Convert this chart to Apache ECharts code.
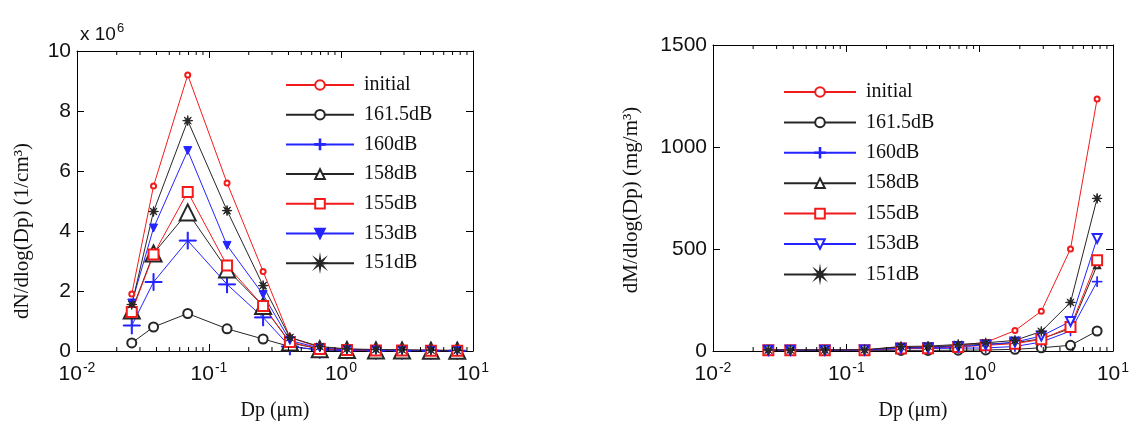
<!DOCTYPE html>
<html>
<head>
<meta charset="utf-8">
<script src="https://cdn.jsdelivr.net/npm/echarts@6/dist/echarts.min.js"></script>
<style>
  html, body { margin: 0; padding: 0; background: #fff; }
  #chart { width: 1137px; height: 426px; }
</style>
</head>
<body>
<div id="chart"></div>
<script>
// particle diameter (um), same bins on both panels
const dp = [0.026, 0.038, 0.069, 0.137, 0.257, 0.41, 0.69, 1.11, 1.84, 2.9, 4.8, 7.6];
const seriesNames = ['initial', '161.5dB', '160dB', '158dB', '155dB', '153dB', '151dB'];

// left panel: dN/dlog(Dp), x 10^6 1/cm3
const nInitial = [1.9, 5.5, 9.2, 5.6, 2.65, 0.45, 0.12, 0.06, 0.04, 0.03, 0.02, 0.02];
const n1615 = [0.27, 0.8, 1.25, 0.74, 0.4, 0.15, 0.03, 0.02, 0.01, 0.01, 0.01, 0.01];
const n160 = [0.85, 2.3, 3.68, 2.22, 1.12, 0.15, 0.04, 0.02, 0.01, 0.01, 0.01, 0.01];
const n158 = [1.35, 3.25, 4.62, 2.72, 1.5, 0.28, 0.06, 0.03, 0.02, 0.02, 0.01, 0.01];
const n155 = [1.3, 3.22, 5.3, 2.85, 1.5, 0.3, 0.07, 0.03, 0.02, 0.02, 0.01, 0.01];
const n153 = [1.6, 4.1, 6.68, 3.52, 1.88, 0.35, 0.1, 0.04, 0.03, 0.02, 0.02, 0.01];
const n151 = [1.55, 4.65, 7.68, 4.68, 2.18, 0.45, 0.15, 0.07, 0.05, 0.04, 0.03, 0.02];

// right panel: dM/dlog(Dp), mg/m3
const mInitial = [5, 5, 5, 6, 20, 20, 28, 42, 100, 195, 500, 1235];
const m1615 = [3, 3, 3, 3, 3, 3, 4, 5, 8, 16, 28, 98];
const m160 = [4, 4, 4, 4, 12, 12, 14, 15, 22, 44, 98, 340];
const m158 = [4, 4, 4, 5, 16, 18, 26, 34, 40, 60, 110, 420];
const m155 = [4, 4, 4, 4, 12, 14, 20, 28, 36, 57, 118, 445];
const m153 = [4, 4, 4, 5, 14, 16, 22, 30, 44, 73, 145, 552];
const m151 = [5, 5, 5, 6, 22, 24, 32, 40, 52, 96, 238, 748];

const leftTicks = [0, 10, 2];
const rightTicks = [0, 1500, 500];

const SANS = "'Liberation Sans', Arial, sans-serif";
const SERIF = "'Liberation Serif', 'Times New Roman', serif";
const RED = '#f21b1b', BLUE = '#2424ff', BLACK = '#262626';

const PLUS = 'path://M-0.6,-10H0.6V-0.6H10V0.6H0.6V10H-0.6V0.6H-10V-0.6H-0.6Z';
const STAR = 'path://M0,-10L1.15,-2.77L7.07,-7.07L2.77,-1.15L10,0L2.77,1.15L7.07,7.07L1.15,2.77L0,10L-1.15,2.77L-7.07,7.07L-2.77,1.15L-10,0L-2.77,-1.15L-7.07,-7.07L-1.15,-2.77Z';

// minor ticks of the log axes (2..9 in each decade)
const minorTicks = [];
for (let e = -2; e < 1; e++) {
  for (let m = 2; m <= 9; m++) minorTicks.push(m * Math.pow(10, e));
}

function pairs(arr) {
  return dp.map((d, i) => [d, arr[i]]);
}

function line(name, arr, color, symbol, size, xi, rotate) {
  return {
    name: name,
    type: 'line',
    xAxisIndex: xi,
    yAxisIndex: xi,
    data: pairs(arr),
    symbol: symbol,
    symbolSize: size,
    symbolRotate: rotate || 0,
    showAllSymbol: true,
    lineStyle: { color: color, width: 1 },
    itemStyle: { color: color, borderColor: color, borderWidth: 1 },
    emphasis: { disabled: true },
    animation: false,
    z: 3
  };
}

// short inward ticks along the bottom (dir -1) or top (dir 1) edge
function minorSeries(xi, yVal, dir) {
  return {
    type: 'scatter',
    xAxisIndex: xi,
    yAxisIndex: xi,
    silent: true,
    animation: false,
    clip: false,
    z: 10,
    data: minorTicks.map(v => [v, yVal]),
    symbol: 'rect',
    symbolSize: [1, 4],
    symbolOffset: [0, dir * 2],
    itemStyle: { color: '#000', opacity: 1 },
    emphasis: { disabled: true }
  };
}

function logAxis(gi, pos, labels) {
  return {
    type: 'log',
    logBase: 10,
    gridIndex: gi,
    position: pos,
    min: 0.01,
    max: 10,
    interval: 1,
    axisLine: { show: true, onZero: false, lineStyle: { color: '#000', width: 1 } },
    axisTick: { show: true, inside: true, length: 7, lineStyle: { color: '#000', width: 1 } },
    splitLine: { show: false },
    axisLabel: {
      show: labels,
      margin: 10,
      formatter: function (v) {
        return '{b|10}{s|' + Math.round(Math.log10(v)) + '}';
      },
      rich: {
        b: { fontFamily: SANS, fontSize: 21, color: '#111', lineHeight: 24, verticalAlign: 'bottom' },
        s: { fontFamily: SANS, fontSize: 14, color: '#111', lineHeight: 24, verticalAlign: 'top', padding: [0, 0, 8, 1] }
      }
    },
    name: labels ? 'Dp (\u03bcm)' : '',
    nameLocation: 'middle',
    nameGap: 50,
    nameTextStyle: { fontFamily: SERIF, fontSize: 20, color: '#111' }
  };
}

function valAxis(gi, pos, ticks, name, gap, pad) {
  return {
    type: 'value',
    gridIndex: gi,
    position: pos,
    min: ticks[0],
    max: ticks[1],
    interval: ticks[2],
    axisLine: { show: true, lineStyle: { color: '#000', width: 1 } },
    axisTick: { show: true, inside: true, length: 7, lineStyle: { color: '#000', width: 1 } },
    splitLine: { show: false },
    axisLabel: {
      show: pos === 'left',
      margin: 6,
      fontFamily: SANS,
      fontSize: 21,
      color: '#111',
      formatter: function (v) { return String(v); }
    },
    name: pos === 'left' ? name : '',
    nameLocation: 'middle',
    nameRotate: 90,
    nameGap: gap,
    nameTextStyle: { fontFamily: SERIF, fontSize: 21, color: '#111', padding: pad }
  };
}

const chart = echarts.init(document.getElementById('chart'));

const option = {
  backgroundColor: '#fff',
  animation: false,
  title: {
    text: '{a|x 10}{s|6}',
    left: 75,
    top: 17,
    textStyle: {
      rich: {
        a: { fontFamily: SANS, fontSize: 19, fontWeight: 'normal', color: '#111', lineHeight: 22, verticalAlign: 'bottom' },
        s: { fontFamily: SANS, fontSize: 13, fontWeight: 'normal', color: '#111', lineHeight: 22, verticalAlign: 'top', padding: [0, 0, 8, 1] }
      }
    }
  },
  grid: [
    { left: 77, top: 51, width: 396, height: 303 },
    { left: 713, top: 45, width: 400, height: 307 }
  ],
  legend: [
    {
      orient: 'vertical',
      left: 285,
      top: 75,
      padding: 0,
      itemWidth: 68,
      itemHeight: 12,
      itemGap: 9.7,
      data: seriesNames,
      textStyle: { fontFamily: SERIF, fontSize: 20, lineHeight: 20, color: '#111', padding: [0, 0, 0, 5] },
      selectedMode: false
    },
    {
      orient: 'vertical',
      left: 783,
      top: 82,
      padding: 0,
      itemWidth: 72,
      itemHeight: 12,
      itemGap: 10.4,
      data: seriesNames.map(n => 'M ' + n),
      formatter: function (n) { return n.slice(2); },
      textStyle: { fontFamily: SERIF, fontSize: 20, lineHeight: 20, color: '#111', padding: [0, 0, 0, 5] },
      selectedMode: false
    }
  ],
  xAxis: [
    logAxis(0, 'bottom', true),
    logAxis(0, 'top', false),
    logAxis(1, 'bottom', true),
    logAxis(1, 'top', false)
  ],
  yAxis: [
    valAxis(0, 'left', leftTicks, 'dN/dlog(Dp) (1/cm\u00b3)', 44, [0, 60, 0, 0]),
    valAxis(0, 'right', leftTicks, '', 0, 0),
    valAxis(1, 'left', rightTicks, 'dM/dlog(Dp) (mg/m\u00b3)', 71, [0, 4, 0, 0]),
    valAxis(1, 'right', rightTicks, '', 0, 0)
  ],
  series: [
    minorSeries(0, leftTicks[0], -1),
    minorSeries(0, leftTicks[1], 1),
    minorSeries(2, rightTicks[0], -1),
    minorSeries(2, rightTicks[1], 1),
    line('initial', nInitial, RED, 'emptyCircle', 5, 0),
    line('161.5dB', n1615, BLACK, 'emptyCircle', 9, 0),
    line('160dB', n160, BLUE, PLUS, 17, 0),
    line('158dB', n158, BLACK, 'emptyTriangle', 16, 0),
    line('155dB', n155, RED, 'emptyRect', 10, 0),
    line('153dB', n153, BLUE, 'triangle', 8, 0, 180),
    line('151dB', n151, BLACK, STAR, 10, 0),
    line('M initial', mInitial, RED, 'emptyCircle', 5, 2),
    line('M 161.5dB', m1615, BLACK, 'emptyCircle', 9, 2),
    line('M 160dB', m160, BLUE, PLUS, 10, 2),
    line('M 158dB', m158, BLACK, 'emptyTriangle', 6, 2),
    line('M 155dB', m155, RED, 'emptyRect', 10, 2),
    line('M 153dB', m153, BLUE, 'emptyTriangle', 9, 2, 180),
    line('M 151dB', m151, BLACK, STAR, 10, 2)
  ]
};

chart.setOption(option);
window.addEventListener('resize', function () {
  chart.resize();
});
</script>
</body>
</html>
